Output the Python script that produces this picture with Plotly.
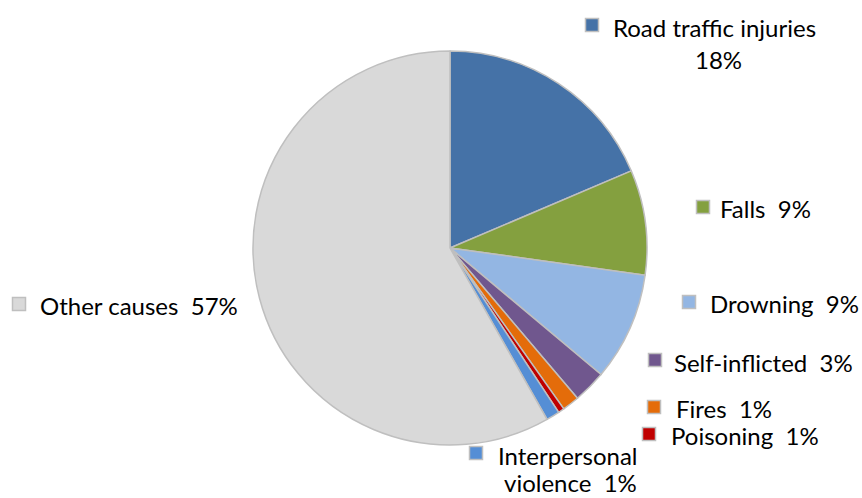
import plotly.graph_objects as go

OX, OY = 0, 0
W, H = 862, 498

labels = ["Road traffic injuries", "Falls", "Drowning", "Self-inflicted", "Fires",
          "Poisoning", "Interpersonal violence", "Other causes"]
values = [18.6, 8.6, 8.9, 2.7, 1.4, 0.5, 1.1, 58.2]
pct_text = ["18%", "9%", "9%", "3%", "1%", "1%", "1%", "57%"]
colors = ["#4572A7", "#84A03F", "#93B6E3", "#70578E", "#E46C0A", "#C00000", "#558ED5", "#D9D9D9"]


def px(x):
    return (x - OX) / W


def py(y):
    return 1 - (y - OY) / H


fig = go.Figure(go.Pie(
    labels=labels, values=values, sort=False, direction="clockwise", rotation=0,
    marker=dict(colors=colors, line=dict(color="#BFBFBF", width=1.5)),
    textinfo="none", hoverinfo="label+percent", showlegend=False,
    domain=dict(x=[px(253), px(647)], y=[py(445), py(51)]),
))

NB = "\u00a0"
label_layout = [
    (592, 25, [(labels[0], 611, 27, "left"), (pct_text[0], 718, 60, "center")]),
    (703, 207, [(labels[1] + NB * 2 + pct_text[1], 718, 208, "left")]),
    (689, 302, [(labels[2] + NB * 2 + pct_text[2], 708, 303, "left")]),
    (655, 360, [(labels[3] + NB * 2 + pct_text[3], 672, 362, "left")]),
    (654, 407, [(labels[4] + NB * 2 + pct_text[4], 674, 408, "left")]),
    (649, 434, [(labels[5] + NB * 2 + pct_text[5], 669, 435, "left")]),
    (476, 453, [("Interpersonal", 496, 455, "left"), ("violence" + NB * 2 + pct_text[6], 570, 482, "center")]),
    (19, 304, [(labels[7] + NB * 2 + pct_text[7], 38, 305, "left")]),
]

shapes = []
annotations = []
s = 6.5
for i, (mx, my, lines) in enumerate(label_layout):
    shapes.append(dict(type="rect", xref="paper", yref="paper",
                       x0=px(mx - s), x1=px(mx + s), y0=py(my + s), y1=py(my - s),
                       fillcolor=colors[i], line=dict(color="#BFBFBF", width=1.5)))
    for (t, tx, ty, anc) in lines:
        annotations.append(dict(text=t, x=px(tx), y=py(ty), xref="paper", yref="paper",
                                xanchor=anc, yanchor="middle", showarrow=False,
                                font=dict(family="Lato, Carlito, sans-serif", size=24, color="#000000")))

fig.update_layout(
    width=W, height=H, margin=dict(l=0, r=0, t=0, b=0),
    paper_bgcolor="white", plot_bgcolor="white",
    shapes=shapes, annotations=annotations,
)

fig.write_html("out.html", config={"displayModeBar": False},
               post_script="document.body.style.margin='0';document.body.style.overflow='hidden';")
